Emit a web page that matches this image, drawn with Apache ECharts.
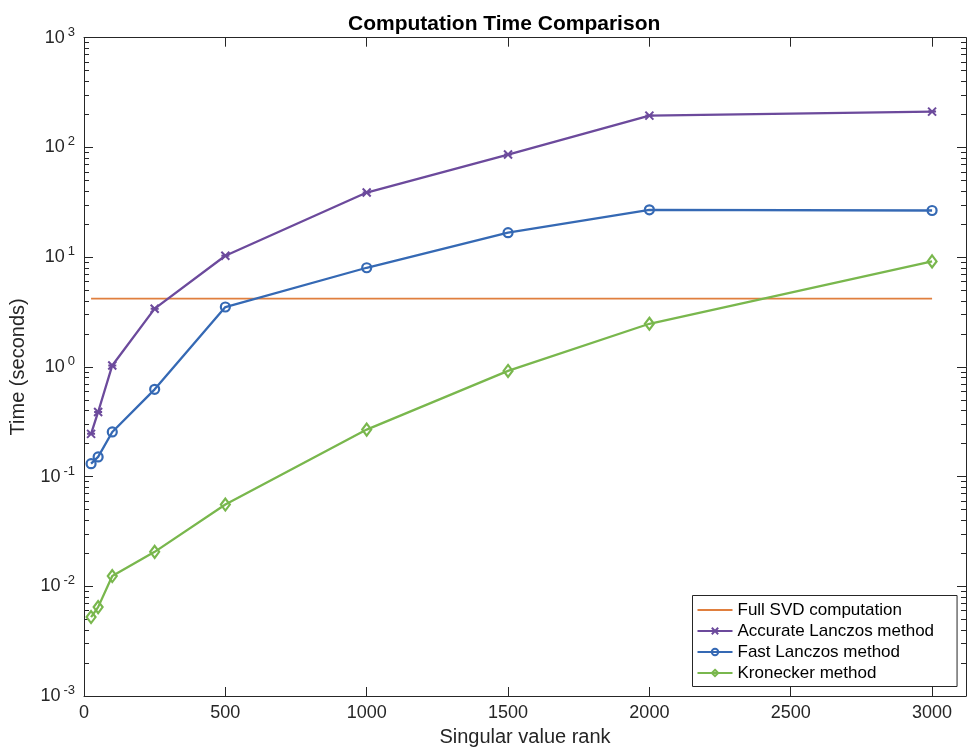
<!DOCTYPE html>
<html>
<head>
<meta charset="utf-8">
<script src="https://cdn.jsdelivr.net/npm/echarts@6/dist/echarts.min.js"></script>
<style>
  html, body { margin: 0; padding: 0; background: #ffffff; }
  #chart { width: 967px; height: 752px; }
</style>
</head>
<body>
<div id="chart"></div>
<script>
// Singular value ranks at which each method was timed
const ranks = [25, 50, 100, 250, 500, 1000, 1500, 2000, 3000];

// Wall-clock time in seconds for each method
const fullSvdTime         = [4.18, 4.18, 4.18, 4.18, 4.18, 4.18, 4.18, 4.18, 4.18];
const accurateLanczosTime = [0.245, 0.388, 1.03, 3.39, 10.3, 38.8, 86.1, 195, 212];
const fastLanczosTime     = [0.131, 0.151, 0.255, 0.624, 3.51, 8.0, 16.7, 27.0, 26.6];
const kroneckerTime       = [0.00524, 0.00646, 0.0124, 0.0206, 0.0556, 0.268, 0.918, 2.47, 9.14];

// Axis ticks
const xTickValues = [0, 500, 1000, 1500, 2000, 2500, 3000];
const yDecadeValues = [1e-3, 1e-2, 1e-1, 1e0, 1e1, 1e2, 1e3];
const yMinorValues = [];
for (let d = 0; d < yDecadeValues.length - 1; d++) {
  for (let k = 2; k <= 9; k++) yMinorValues.push(+(k * yDecadeValues[d]).toPrecision(6));
}

const FONT = '"Liberation Sans", Arial, Helvetica, sans-serif';
const AXIS_COLOR = '#262626';
const ORANGE = '#e07f3e';
const PURPLE = '#6c4a9c';
const BLUE = '#3569b4';
const GREEN = '#79b74d';

const X_MIN = 0, X_MAX = 3120;
const Y_MIN = 1e-3, Y_MAX = 1e3;

const pairs = ys => ranks.map((r, i) => [r, ys[i]]);

function powerLabel(v) {
  const e = Math.round(Math.log10(v));
  return '{b|10}{e|' + e + '}';
}

const logAxisBase = {
  type: 'log',
  logBase: 10,
  min: Y_MIN,
  max: Y_MAX,
  splitLine: { show: false },
  axisLine: { show: false }
};

const chart = echarts.init(document.getElementById('chart'), null, { renderer: 'canvas' });

chart.setOption({
  animation: false,
  backgroundColor: '#ffffff',
  textStyle: { fontFamily: FONT },
  title: {
    text: 'Computation Time Comparison',
    left: 343,
    top: 9,
    textStyle: { fontFamily: FONT, fontSize: 21, fontWeight: 'bold', color: '#000000' }
  },
  grid: { left: 82.5, right: 1, top: 37.7, bottom: 55.3, containLabel: false },
  legend: {
    orient: 'vertical',
    left: 692.5,
    top: 595.5,
    padding: [6, 23, 5, 4],
    itemWidth: 35,
    itemHeight: 8,
    itemGap: 4,
    backgroundColor: '#ffffff',
    borderColor: AXIS_COLOR,
    borderWidth: 1,
    borderRadius: 0,
    textStyle: { fontFamily: FONT, fontSize: 17, color: '#000000', lineHeight: 17 },
    data: [
      { name: 'Full SVD computation', itemStyle: { opacity: 0 } },
      'Accurate Lanczos method',
      'Fast Lanczos method',
      'Kronecker method'
    ]
  },
  xAxis: [
    {
      type: 'value',
      position: 'bottom',
      min: X_MIN,
      max: X_MAX,
      name: 'Singular value rank',
      nameLocation: 'middle',
      nameGap: 31,
      nameTextStyle: { fontFamily: FONT, fontSize: 20, color: '#262626' },
      splitLine: { show: false },
      axisLine: { show: true, lineStyle: { color: AXIS_COLOR, width: 1 } },
      axisTick: { show: true, inside: true, length: 9, customValues: xTickValues, lineStyle: { color: AXIS_COLOR } },
      axisLabel: {
        customValues: xTickValues,
        margin: 8,
        fontFamily: FONT,
        fontSize: 18,
        color: '#262626',
        formatter: v => String(v)
      }
    },
    {
      type: 'value',
      position: 'top',
      min: X_MIN,
      max: X_MAX,
      splitLine: { show: false },
      axisLine: { show: true, lineStyle: { color: AXIS_COLOR, width: 1 } },
      axisTick: { show: true, inside: true, length: 9, customValues: xTickValues, lineStyle: { color: AXIS_COLOR } },
      axisLabel: { show: false }
    }
  ],
  yAxis: [
    Object.assign({}, logAxisBase, {
      position: 'left',
      name: 'Time (seconds)',
      nameLocation: 'middle',
      nameGap: 56,
      nameTextStyle: { fontFamily: FONT, fontSize: 20, color: '#262626' },
      axisLine: { show: true, lineStyle: { color: AXIS_COLOR, width: 1 } },
      axisTick: { show: true, inside: true, length: 9, customValues: yDecadeValues, lineStyle: { color: AXIS_COLOR } },
      axisLabel: {
        customValues: yDecadeValues,
        margin: 9,
        color: '#262626',
        formatter: powerLabel,
        rich: {
          b: { fontFamily: FONT, fontSize: 18, lineHeight: 24, color: '#262626' },
          e: { fontFamily: FONT, fontSize: 13, lineHeight: 12, verticalAlign: 'top', padding: [0, 0, 0, 3], color: '#262626' }
        }
      }
    }),
    Object.assign({}, logAxisBase, {
      position: 'left',
      axisTick: { show: true, inside: true, length: 5, customValues: yMinorValues, lineStyle: { color: AXIS_COLOR } },
      axisLabel: { show: false }
    }),
    Object.assign({}, logAxisBase, {
      position: 'right',
      axisLine: { show: true, lineStyle: { color: AXIS_COLOR, width: 1 } },
      axisTick: { show: true, inside: true, length: 9, customValues: yDecadeValues, lineStyle: { color: AXIS_COLOR } },
      axisLabel: { show: false }
    }),
    Object.assign({}, logAxisBase, {
      position: 'right',
      axisTick: { show: true, inside: true, length: 5, customValues: yMinorValues, lineStyle: { color: AXIS_COLOR } },
      axisLabel: { show: false }
    })
  ],
  series: [
    {
      name: 'Full SVD computation',
      type: 'line',
      data: pairs(fullSvdTime),
      symbol: 'none',
      lineStyle: { color: ORANGE, width: 1.8 },
      itemStyle: { color: ORANGE },
      z: 2
    },
    {
      name: 'Accurate Lanczos method',
      type: 'line',
      data: pairs(accurateLanczosTime),
      symbol: 'path://M0,0L10,10M10,0L0,10M0,5L10,5',
      symbolSize: 8,
      showAllSymbol: true,
      lineStyle: { color: PURPLE, width: 2.3 },
      itemStyle: { color: 'rgba(0,0,0,0)', borderColor: PURPLE, borderWidth: 2 },
      z: 3
    },
    {
      name: 'Fast Lanczos method',
      type: 'line',
      data: pairs(fastLanczosTime),
      symbol: 'circle',
      symbolSize: 9,
      showAllSymbol: true,
      lineStyle: { color: BLUE, width: 2.3 },
      itemStyle: { color: 'rgba(0,0,0,0)', borderColor: BLUE, borderWidth: 2.2 },
      z: 3
    },
    {
      name: 'Kronecker method',
      type: 'line',
      data: pairs(kroneckerTime),
      symbol: 'diamond',
      symbolSize: [9, 12],
      showAllSymbol: true,
      lineStyle: { color: GREEN, width: 2.3 },
      itemStyle: { color: 'rgba(0,0,0,0)', borderColor: GREEN, borderWidth: 2.2 },
      z: 3
    }
  ]
});
</script>
</body>
</html>
